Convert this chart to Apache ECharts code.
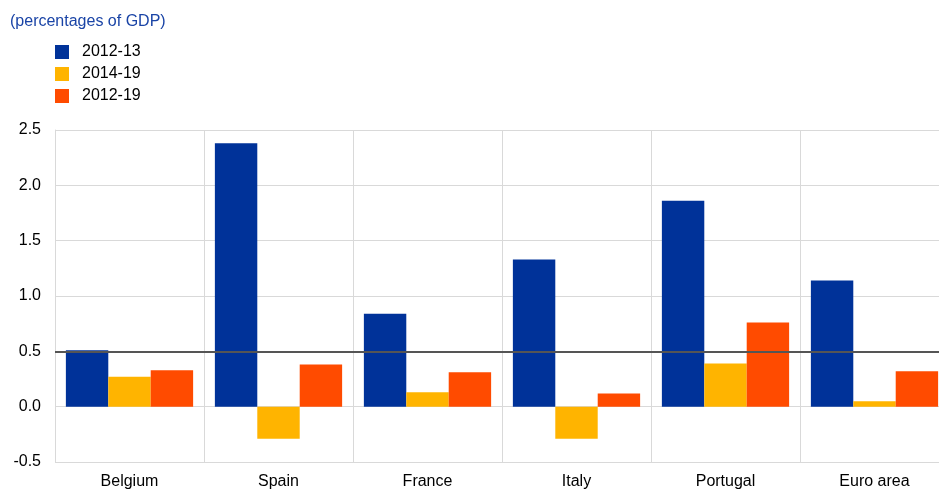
<!DOCTYPE html>
<html><head><meta charset="utf-8">
<script src="https://cdn.jsdelivr.net/npm/echarts@6/dist/echarts.min.js"></script>
<style>html,body{margin:0;padding:0;background:#fff;overflow:hidden;width:939px;height:490px}#c{width:949px;height:490px}</style>
</head><body><div id="c"></div>
<script>
const categories = ['Belgium','Spain','France','Italy','Portugal','Euro area'];
const s2012_13 = [0.51, 2.38, 0.84, 1.33, 1.86, 1.14];
const s2014_19 = [0.27, -0.29, 0.13, -0.29, 0.39, 0.05];
const s2012_19 = [0.33, 0.38, 0.31, 0.12, 0.76, 0.32];
const seriesNames = ['2012-13','2014-19','2012-19'];
const refLine = 0.5;

const chart = echarts.init(document.getElementById('c'));
const font = 'Arial, "Liberation Sans", sans-serif';
chart.setOption({
  animation:false,
  color:['#003299','#FFB400','#FF4B00'],
  title:{text:'(percentages of GDP)',left:5,top:9,textStyle:{color:'#1a44a6',fontSize:16,fontWeight:'normal',fontFamily:font}},
  legend:{orient:'vertical',left:50,top:39,itemWidth:14,itemHeight:14,itemGap:6,icon:'rect',
    textStyle:{fontSize:16,color:'#000',fontFamily:font,padding:[0,0,0,8]},data:seriesNames},
  grid:{left:55,right:0,top:130,bottom:28,containLabel:false},
  xAxis:{type:'category',data:categories,axisTick:{show:false},
    axisLine:{show:false},
    splitLine:{show:true,lineStyle:{color:'#d9d9d9',width:1}},
    axisLabel:{fontSize:16,color:'#000',fontFamily:font,margin:12}},
  yAxis:{type:'value',min:-0.5,max:2.5,interval:0.5,
    axisLine:{show:true,lineStyle:{color:'#d9d9d9'}},axisTick:{show:false},
    splitLine:{lineStyle:{color:'#d9d9d9',width:1}},
    axisLabel:{fontSize:16,color:'#000',fontFamily:font,margin:14,formatter:v=>v.toFixed(1)}},
  series:[
    {name:seriesNames[0],type:'bar',data:s2012_13,barGap:'0%',barCategoryGap:'14.6%',
      markLine:{silent:true,symbol:'none',label:{show:false},lineStyle:{color:'#555555',width:2,type:'solid'},data:[{yAxis:refLine}],z:10}},
    {name:seriesNames[1],type:'bar',data:s2014_19,barGap:'0%',barCategoryGap:'14.6%'},
    {name:seriesNames[2],type:'bar',data:s2012_19,barGap:'0%',barCategoryGap:'14.6%'}
  ]
});
</script></body></html>
